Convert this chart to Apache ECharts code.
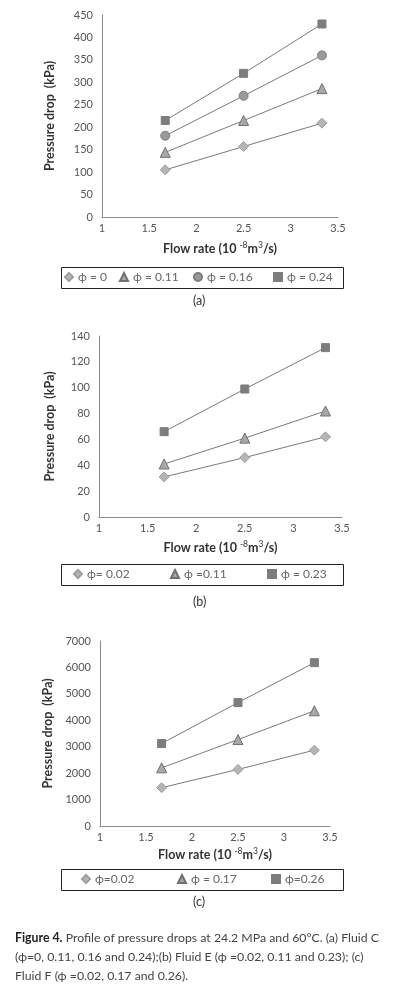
<!DOCTYPE html>
<html>
<head>
<meta charset="utf-8">
<script src="https://cdn.jsdelivr.net/npm/echarts@6/dist/echarts.min.js"></script>
<style>
html, body { margin: 0; padding: 0; background: #fff; }
#main { width: 397px; height: 989px; }
</style>
</head>
<body>
<div id="main"></div>
<script>
// flow rate, 10^-8 m3/s
var flowRate = [1.67, 2.5, 3.33];

// (a) Fluid C
var namesA = ["ϕ = 0", "ϕ = 0.11", "ϕ = 0.16", "ϕ = 0.24"];
var fluidC_0 = [105, 157, 209];
var fluidC_011 = [144, 215, 286];
var fluidC_016 = [181, 270, 360];
var fluidC_024 = [215, 320, 430];

// (b) Fluid E
var namesB = ["ϕ= 0.02", "ϕ =0.11", "ϕ = 0.23"];
var fluidE_002 = [31, 46, 62];
var fluidE_011 = [41, 61, 82];
var fluidE_023 = [66, 99, 131];

// (c) Fluid F
var namesC = ["ϕ=0.02", "ϕ = 0.17", "ϕ=0.26"];
var fluidF_002 = [1450, 2140, 2870];
var fluidF_017 = [2200, 3270, 4360];
var fluidF_026 = [3120, 4670, 6180];

var FONT = "Lato, 'DejaVu Sans', sans-serif";

var markers = {
	diamond : { symbol : "diamond", size : 10, color : "#b5b5b5", border : "#9e9e9e" },
	triangle : { symbol : "triangle", size : 10, color : "#a8a8a8", border : "#707070" },
	circle : { symbol : "circle", size : 9, color : "#9a9a9a", border : "#7d7d7d" },
	rect : { symbol : "rect", size : 8, color : "#7d7d7d", border : "#7d7d7d" }
};

function pairs(values) {
	var out = [];
	for (var i = 0; i < flowRate.length; i++) {
		out.push([flowRate[i], values[i]]);
	}
	return out;
}

function makeSeries(name, values, m, idx) {
	var mk = markers[m];
	return {
		name : name,
		type : "line",
		xAxisIndex : idx,
		yAxisIndex : idx,
		data : pairs(values),
		symbol : mk.symbol,
		symbolSize : mk.size,
		lineStyle : { color : "#7a7a7a", width : 1 },
		itemStyle : { color : mk.color, borderColor : mk.border, borderWidth : 1 },
		animation : false
	};
}

function makeX(idx, gap) {
	return {
		gridIndex : idx,
		type : "value",
		min : 1,
		max : 3.5,
		interval : 0.5,
		axisLine : { lineStyle : { color : "#8a8a8a" } },
		axisTick : { show : false },
		splitLine : { show : false },
		axisLabel : { color : "#555", fontSize : 11, fontFamily : FONT, margin : 6 },
		name : "{t|Flow rate (10 }{s|-8}{t|m}{s|3}{t|/s)}",
		nameLocation : "middle",
		nameGap : gap,
		nameTextStyle : {
			rich : {
				t : { fontSize : 12.5, color : "#333", fontFamily : FONT, fontWeight : "bold" },
				s : { fontSize : 8.5, color : "#333", fontFamily : FONT, padding : [0, 0, 7, 0] }
			}
		}
	};
}

function makeY(idx, max, interval, gap) {
	return {
		gridIndex : idx,
		type : "value",
		min : 0,
		max : max,
		interval : interval,
		axisLine : { show : true, lineStyle : { color : "#8a8a8a" } },
		axisTick : { show : false },
		splitLine : { show : false },
		axisLabel : {
			color : "#555", fontSize : 11, fontFamily : FONT, margin : 9,
			formatter : function(v) { return String(v); }
		},
		name : "Pressure drop  (kPa)",
		nameLocation : "middle",
		nameGap : gap,
		nameTextStyle : { fontSize : 12.5, color : "#333", fontFamily : FONT, fontWeight : "bold" }
	};
}

function legendItem(name, icon, left, top) {
	return {
		data : [name],
		icon : icon,
		left : left,
		top : top,
		itemWidth : 8,
		itemHeight : 8,
		itemGap : 0,
		padding : 0,
		selectedMode : false,
		textStyle : { color : "#666", fontSize : 12, fontFamily : FONT }
	};
}

function legendBox(top) {
	return {
		type : "rect",
		left : 59,
		top : top,
		shape : { width : 282, height : 21 },
		style : { fill : "none", stroke : "#222", lineWidth : 1 }
	};
}

function caption(text, top) {
	return {
		type : "text",
		left : 193,
		top : top,
		style : { text : text, fill : "#333", font : "12.5px " + FONT }
	};
}

var chart = echarts.init(document.getElementById("main"));

var option = {
	backgroundColor : "#fff",
	animation : false,
	grid : [
		{ left : 102, top : 15, width : 236, height : 202 },
		{ left : 99, top : 336, width : 243, height : 181 },
		{ left : 100, top : 641, width : 230, height : 185 }
	],
	xAxis : [makeX(0, 24), makeX(1, 23), makeX(2, 21)],
	yAxis : [makeY(0, 450, 50, 46), makeY(1, 140, 20, 43), makeY(2, 7000, 1000, 44)],
	legend : [
		legendItem(namesA[0], "diamond", 64, 271),
		legendItem(namesA[1], "triangle", 119, 271),
		legendItem(namesA[2], "circle", 193, 271),
		legendItem(namesA[3], "rect", 273, 271),
		legendItem(namesB[0], "diamond", 73, 568),
		legendItem(namesB[1], "triangle", 170, 568),
		legendItem(namesB[2], "rect", 267, 568),
		legendItem(namesC[0], "diamond", 81, 873),
		legendItem(namesC[1], "triangle", 177, 873),
		legendItem(namesC[2], "rect", 271, 873)
	],
	graphic : [
		legendBox(265),
		legendBox(562),
		legendBox(867),
		caption("(a)", 294),
		caption("(b)", 595),
		caption("(c)", 895),
		{
			type : "text",
			left : 15,
			top : 929,
			style : {
				text : "{b|Figure 4.} Profile of pressure drops at 24.2 MPa and 60°C. (a) Fluid C\n"
					+ "(ϕ=0, 0.11, 0.16 and 0.24);(b) Fluid E (ϕ =0.02, 0.11 and 0.23); (c)\n"
					+ "Fluid F (ϕ =0.02, 0.17 and 0.26).",
				fill : "#444",
				font : "12.3px " + FONT,
				lineHeight : 19,
				rich : {
					b : { font : "bold 12.3px " + FONT, fill : "#222", lineHeight : 19 }
				}
			}
		}
	],
	series : [
		makeSeries(namesA[0], fluidC_0, "diamond", 0),
		makeSeries(namesA[1], fluidC_011, "triangle", 0),
		makeSeries(namesA[2], fluidC_016, "circle", 0),
		makeSeries(namesA[3], fluidC_024, "rect", 0),
		makeSeries(namesB[0], fluidE_002, "diamond", 1),
		makeSeries(namesB[1], fluidE_011, "triangle", 1),
		makeSeries(namesB[2], fluidE_023, "rect", 1),
		makeSeries(namesC[0], fluidF_002, "diamond", 2),
		makeSeries(namesC[1], fluidF_017, "triangle", 2),
		makeSeries(namesC[2], fluidF_026, "rect", 2)
	]
};

chart.setOption(option);
</script>
</body>
</html>
